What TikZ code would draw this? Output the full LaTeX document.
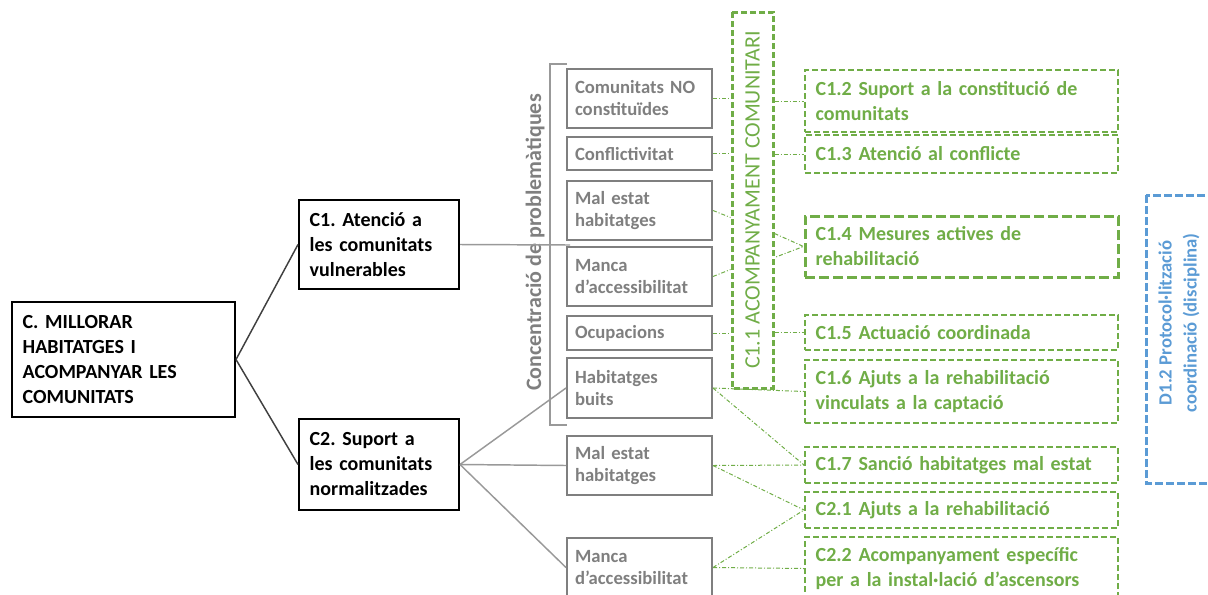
\documentclass[tikz,border=0pt]{standalone}
\usepackage{fontspec}
\setmainfont{Carlito}
\usetikzlibrary{calc}
\definecolor{probgray}{RGB}{127,127,127}
\definecolor{actgreen}{RGB}{112,173,71}
\definecolor{discblue}{RGB}{91,155,213}
\frenchspacing
\tikzset{every picture/.style={line width=0.75pt}}
\tikzset{
  goalbox/.style={draw=black, line width=1.5pt, align=left, inner xsep=8pt, font=\bfseries\fontsize{15}{18.75}\selectfont},
  probbox/.style={draw=probgray, line width=1.5pt, text=probgray, align=left, inner xsep=6pt, text width=96.75pt, minimum width=108.75pt, font=\bfseries\fontsize{14}{16.5}\selectfont},
  actbox/.style={draw=actgreen, line width=1.5pt, dash pattern=on 4.5pt off 2.25pt, text=actgreen, align=left, inner xsep=8pt, text width=218.75pt, minimum width=234.75pt, font=\bfseries\fontsize{15}{18.75}\selectfont},
  linkline/.style={draw=actgreen, line width=0.75pt, dash pattern=on 3pt off 1.5pt on 0.75pt off 1.5pt},
  treeline/.style={draw=black!75, line width=1.1pt},
  probline/.style={draw=probgray!80, line width=1.1pt}
}

\begin{document}
\begin{tikzpicture}[x=0.75pt,y=0.75pt,yscale=-1,xscale=1]
\useasboundingbox (0,0) rectangle (1208,594);

%Goal boxes
\node[goalbox, text width=151.25pt, minimum height=86.25pt] (goal) at (123.5,359.5) {C. MILLORAR\\HABITATGES I\\ACOMPANYAR LES\\COMUNITATS};
\node[goalbox, text width=104pt, minimum height=66.75pt] (c1) at (379,244.5) {C1. Atenció a\\les comunitats\\vulnerables};
\node[goalbox, text width=104pt, minimum height=68.25pt] (c2) at (379,464.5) {C2. Suport a\\les comunitats\\normalitzades};

%Problem boxes
\node[probbox, minimum height=44.25pt] (g1) at (639.5,98.5) {Comunitats NO\\constituïdes};
\node[probbox, minimum height=24.75pt] (g2) at (639.5,153.5) {Conflictivitat};
\node[probbox, minimum height=44.25pt] (g3) at (639.5,210.5) {Mal estat\\habitatges};
\node[probbox, minimum height=44.25pt] (g4) at (639.5,276.5) {Manca\\d’accessibilitat};
\node[probbox, minimum height=25.5pt] (g5) at (639.5,333) {Ocupacions};
\node[probbox, minimum height=45pt] (g6) at (639.5,388) {Habitatges\\buits};
\node[probbox, minimum height=44.25pt] (g7) at (639.5,465.5) {Mal estat\\habitatges};
\node[probbox, minimum height=44.25pt] (g8) at (639.5,567.5) {Manca\\d’accessibilitat};

% Text Node
\node[rotate=90, text=probgray, font=\bfseries\fontsize{16.5}{18}\selectfont] (conc) at (535,242.5) {Concentració de problemàtiques};
%Bracket
\draw[probline] (567,64) -- (550,64) -- (550,425) -- (567,425);

%Accompaniment box
\node[draw=actgreen, line width=2.25pt, dash pattern=on 4.5pt off 2.25pt, rotate=90, minimum width=282pt, minimum height=30.75pt, text=actgreen, font=\fontsize{16.5}{18}\selectfont] (acc) at (752.5,200) {C1.1 ACOMPANYAMENT COMUNITARI};

%Action boxes
\node[actbox, minimum height=46.5pt] (c12) at (961.5,101) {C1.2 Suport a la constitució de\\comunitats};
\node[actbox, minimum height=28.5pt] (c13) at (961.5,154) {C1.3 Atenció al conflicte};
\node[actbox, line width=2.25pt, dash pattern=on 7.5pt off 3pt, minimum height=45.75pt] (c14) at (961.5,246.5) {C1.4 Mesures actives de\\rehabilitació};
\node[actbox, minimum height=26.25pt] (c15) at (961.5,332.5) {C1.5 Actuació coordinada};
\node[actbox, minimum height=47.25pt] (c16) at (961.5,391.5) {C1.6 Ajuts a la rehabilitació\\vinculats a la captació};
\node[actbox, minimum height=27pt] (c17) at (961.5,465) {C1.7 Sanció habitatges mal estat};
\node[actbox, minimum height=27pt] (c21) at (961.5,510) {C2.1 Ajuts a la rehabilitació};
\node[actbox, minimum height=47.25pt] (c22) at (961.5,568.5) {C2.2 Acompanyament específic\\per a la instal·lació d’ascensors};

%Discipline box
\node[draw=discblue, line width=2.25pt, dash pattern=on 6pt off 2.25pt, rotate=90, minimum width=216pt, minimum height=49.5pt, text=discblue, align=center, font=\bfseries\fontsize{14}{18.75}\selectfont] (disc) at (1179,339) {\hspace*{24pt}D1.2 Protocol·lització\\\hspace*{24pt}coordinació (disciplina)};

%Tree lines
\draw[treeline] (goal.east) -- (c1.west);
\draw[treeline] (goal.east) -- (c2.west);
\coordinate (bk) at (570,245);
\draw[probline] (c1.east) -- (bk);
\draw[probline] (c2.east) -- (g6.west);
\draw[probline] (c2.east) -- (g7.west);
\draw[probline] (c2.east) -- (g8.west);

%Links to accompaniment
\coordinate (a3) at ($(g3.east -| acc.north)+(0,7)$);
\coordinate (a4) at ($(g4.east -| acc.north)+(0,-7)$);
\draw[linkline] (g1.east) -- (g1.east -| acc.north);
\draw[linkline] (g2.east) -- (g2.east -| acc.north);
\draw[linkline] (g3.east) -- (a3);
\draw[linkline] (g4.east) -- (a4);
\draw[linkline] (g5.east) -- (g5.east -| acc.north);

%Links to actions
\coordinate (b3) at ($(acc.south |- c14.west)+(0,-13)$);
\coordinate (b4) at ($(acc.south |- c14.west)+(0,11)$);
\draw[linkline] (acc.south |- c12.west) -- (c12.west);
\draw[linkline] (acc.south |- c13.west) -- (c13.west);
\draw[linkline] (b3) -- (c14.west) -- (b4);
\draw[linkline] (acc.south |- c15.west) -- (c15.west);
\draw[linkline] (g6.east) -- (c16.west);
\draw[linkline] (g6.east) -- (c17.west);
\draw[linkline] (g7.east) -- (c17.west);
\draw[linkline] (g7.east) -- (c21.west);
\draw[linkline] (g8.east) -- (c21.west);
\draw[linkline] (g8.east) -- (c22.west);

\end{tikzpicture}
\end{document}
